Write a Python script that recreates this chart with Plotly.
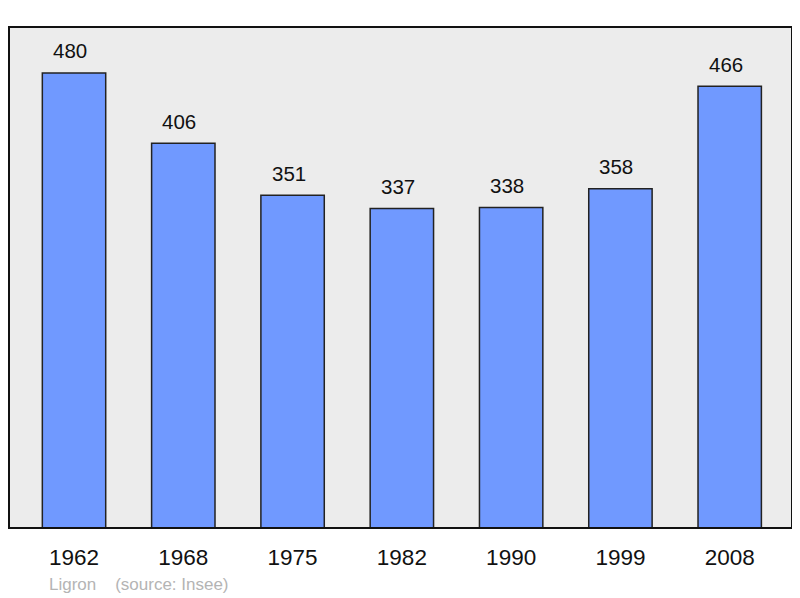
import plotly.graph_objects as go

years = ["1962", "1968", "1975", "1982", "1990", "1999", "2008"]
population = [480, 406, 351, 337, 338, 358, 466]

fig = go.Figure()

fig.add_trace(go.Bar(
    x=years,
    y=population,
    width=0.58,
    marker=dict(color="#7099ff", line=dict(color="#222222", width=1.5)),
    hoverinfo="x+y",
))

# value labels above each bar (x given as category index, numeric strings get misread)
for i, value in enumerate(population):
    fig.add_annotation(
        x=i, y=value, text=str(value),
        showarrow=False, yshift=22, xshift=-4, yanchor="middle",
        font=dict(family="Liberation Sans, Arial, sans-serif", size=20.5, color="#111111"),
    )

# plot frame
fig.add_shape(
    type="rect", xref="paper", yref="paper", x0=0, y0=0, x1=1, y1=1,
    line=dict(color="#111111", width=2), fillcolor="rgba(0,0,0,0)", layer="above",
)

fig.add_annotation(
    xref="paper", yref="paper", x=0.049, y=-0.112, xanchor="left", yanchor="middle",
    text="Ligron&nbsp;&nbsp;&nbsp;&nbsp;(source: Insee)", showarrow=False,
    font=dict(family="Liberation Sans, Arial, sans-serif", size=17, color="#b4b4b4"),
)

# page body has an 8px margin, so the figure is a bit smaller than the window
fig.update_layout(
    width=792, height=590,
    margin=dict(l=1, r=8, t=19, b=70),
    paper_bgcolor="white",
    plot_bgcolor="#ececec",
    showlegend=False,
    font=dict(family="Liberation Sans, Arial, sans-serif"),
)
fig.update_xaxes(
    type="category", range=[-0.595, 6.57], showgrid=False, zeroline=False,
    ticks="", ticklabelstandoff=13,
    tickfont=dict(size=22.5, color="#111111"),
)
fig.update_yaxes(
    range=[0, 528.5], showgrid=False, zeroline=False, showticklabels=False,
)

fig.write_html("out.html")
